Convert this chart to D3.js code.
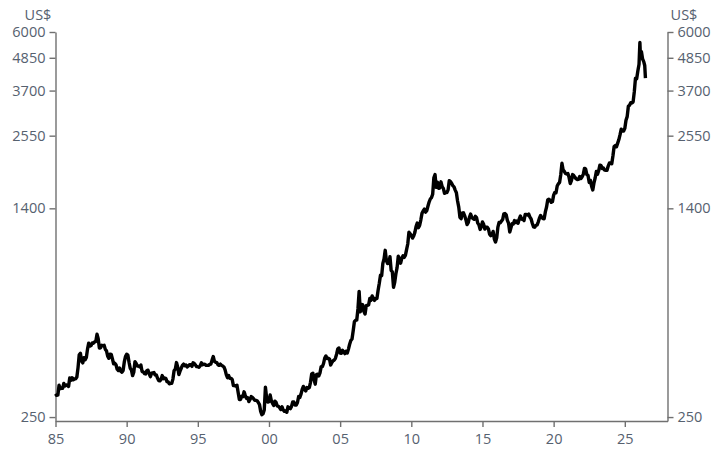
<!DOCTYPE html>
<html>
<head>
<meta charset="utf-8">
<script src="https://cdn.jsdelivr.net/npm/d3@7"></script>
<style>
  body { margin: 0; background: #fff; }
  svg text { font-family: "Open Sans", "Noto Sans", sans-serif; }
</style>
</head>
<body>
<div id="chart"></div>
<script>
// Gold price, US$ per ounce, monthly
const years = d3.range(1985, 2026);
const monthlyPrices = [
  [303, 299, 300, 325, 316, 317, 317, 330, 323, 326, 325, 322], // 1985
  [345, 339, 346, 340, 342, 343, 348, 376, 418, 423, 397, 391], // 1986
  [408, 401, 409, 438, 460, 449, 451, 461, 460, 465, 467, 495], // 1987
  [477, 442, 443, 452, 451, 452, 437, 432, 413, 406, 420, 419], // 1988
  [404, 388, 390, 385, 371, 367, 375, 365, 362, 367, 394, 412], // 1989
  [420, 417, 393, 374, 369, 352, 362, 395, 389, 381, 381, 378], // 1990
  [384, 364, 363, 358, 357, 367, 368, 357, 349, 359, 360, 361], // 1991
  [354, 354, 345, 338, 337, 341, 352, 343, 345, 344, 335, 334], // 1992
  [329, 330, 330, 342, 367, 371, 392, 378, 355, 365, 374, 383], // 1993
  [387, 382, 384, 378, 381, 385, 385, 380, 391, 389, 384, 379], // 1994
  [379, 377, 382, 391, 385, 387, 386, 383, 383, 383, 386, 387], // 1995
  [400, 412, 396, 393, 392, 385, 383, 387, 383, 381, 378, 369], // 1996
  [355, 346, 352, 344, 344, 341, 324, 324, 323, 325, 306, 289], // 1997
  [289, 297, 296, 308, 299, 292, 293, 284, 289, 296, 294, 291], // 1998
  [287, 287, 286, 282, 277, 262, 255, 257, 265, 320, 293, 283], // 1999
  [284, 300, 286, 280, 275, 285, 282, 274, 273, 270, 266, 272], // 2000
  [265, 262, 263, 260, 272, 270, 268, 273, 283, 283, 276, 276], // 2001
  [282, 296, 294, 302, 314, 322, 314, 310, 319, 317, 319, 333], // 2002
  [357, 359, 340, 328, 355, 356, 351, 360, 379, 379, 389, 407], // 2003
  [414, 405, 406, 404, 384, 392, 398, 400, 406, 420, 439, 442], // 2004
  [424, 423, 434, 429, 422, 430, 424, 438, 456, 470, 476, 510], // 2005
  [549, 555, 557, 610, 705, 596, 633, 632, 598, 585, 627, 629], // 2006
  [631, 665, 655, 679, 667, 655, 665, 665, 712, 754, 806, 803], // 2007
  [889, 922, 990, 909, 888, 889, 939, 839, 829, 730, 760, 816], // 2008
  [858, 943, 925, 890, 928, 946, 934, 949, 996, 1043, 1150, 1135], // 2009
  [1118, 1095, 1114, 1148, 1205, 1240, 1193, 1215, 1271, 1343, 1370, 1391], // 2010
  [1356, 1372, 1424, 1474, 1512, 1529, 1572, 1800, 1850, 1665, 1739, 1652], // 2011
  [1656, 1742, 1674, 1650, 1585, 1596, 1594, 1630, 1760, 1747, 1721, 1688], // 2012
  [1671, 1627, 1593, 1487, 1414, 1300, 1286, 1347, 1349, 1316, 1275, 1225], // 2013
  [1244, 1300, 1336, 1299, 1287, 1279, 1311, 1296, 1239, 1222, 1176, 1201], // 2014
  [1251, 1227, 1179, 1198, 1199, 1181, 1131, 1117, 1125, 1157, 1086, 1060], // 2015
  [1097, 1199, 1246, 1242, 1260, 1276, 1337, 1341, 1326, 1267, 1238, 1151], // 2016
  [1192, 1234, 1231, 1266, 1246, 1260, 1237, 1283, 1314, 1280, 1282, 1265], // 2017
  [1331, 1331, 1325, 1335, 1303, 1282, 1238, 1202, 1198, 1215, 1220, 1250], // 2018
  [1291, 1320, 1300, 1286, 1284, 1359, 1413, 1500, 1510, 1495, 1471, 1480], // 2019
  [1561, 1597, 1592, 1683, 1716, 1732, 1847, 2030, 1922, 1900, 1866, 1858], // 2020
  [1867, 1808, 1718, 1760, 1850, 1834, 1807, 1785, 1775, 1777, 1821, 1790], // 2021
  [1817, 1856, 1947, 1937, 1849, 1837, 1733, 1764, 1681, 1630, 1726, 1798], // 2022
  [1898, 1855, 1912, 2000, 1992, 1943, 1951, 1918, 1916, 1916, 1985, 2034], // 2023
  [2034, 2024, 2160, 2332, 2351, 2326, 2398, 2470, 2571, 2690, 2651, 2648], // 2024
  [2708, 2895, 2984, 3250, 3280, 3350, 3340, 3370, 3660, 4100, 4080, 4350]  // 2025
];
// last stretch, 2026, as decimal years
const tailDates = [2026.0, 2026.06, 2026.1, 2026.17, 2026.25, 2026.33, 2026.4, 2026.45];
const tailPrices = [4600, 5500, 4900, 5100, 4800, 4700, 4550, 4100];

const yTicks = [250, 1400, 2550, 3700, 4850, 6000];
const xTicks = [1985, 1990, 1995, 2000, 2005, 2010, 2015, 2020, 2025];

// build the series
let series = [];
years.forEach((yr, i) => {
  monthlyPrices[i].forEach((p, m) => series.push({ t: yr + m / 12, v: p }));
});
tailDates.forEach((t, i) => series.push({ t: t, v: tailPrices[i] }));

const width = 713, height = 451;
const plot = { left: 55.5, right: 667.5, top: 32, bottom: 421 };
const textColor = "#56616f";
const axisColor = "#707070";

const svg = d3.select("#chart").append("svg")
  .attr("width", width)
  .attr("height", height);

const xScale = d3.scaleLinear().domain([1985, 2028]).range([plot.left, plot.right]);
const yScale = d3.scaleLog().domain([242, 6000]).range([plot.bottom, plot.top]);

// axes
const xAxis = d3.axisBottom(xScale)
  .tickValues(xTicks)
  .tickSize(6)
  .tickSizeOuter(0)
  .tickPadding(4)
  .tickFormat(d => String(d).slice(2));

const yAxisLeft = d3.axisLeft(yScale)
  .tickValues(yTicks)
  .tickSize(6)
  .tickSizeOuter(0)
  .tickPadding(4)
  .tickFormat(d3.format("d"));

const yAxisRight = d3.axisRight(yScale)
  .tickValues(yTicks)
  .tickSize(6)
  .tickSizeOuter(0)
  .tickPadding(4)
  .tickFormat(d3.format("d"));

function styleAxis(g) {
  g.selectAll("path, line").attr("stroke", axisColor).attr("stroke-width", 1.4);
  g.selectAll("text")
    .attr("fill", textColor)
    .style("font-size", "14.5px");
}

svg.append("g")
  .attr("transform", `translate(0,${plot.bottom})`)
  .call(xAxis)
  .call(styleAxis)
  .selectAll("text").attr("dy", "0.9em");

svg.append("g")
  .attr("transform", `translate(${plot.left},0)`)
  .call(yAxisLeft)
  .call(styleAxis);

svg.append("g")
  .attr("transform", `translate(${plot.right},0)`)
  .call(yAxisRight)
  .call(styleAxis);

// unit labels
svg.append("text")
  .attr("x", 38).attr("y", 20)
  .attr("text-anchor", "middle")
  .attr("fill", textColor)
  .style("font-size", "14.5px")
  .text("US$");

svg.append("text")
  .attr("x", 684).attr("y", 20)
  .attr("text-anchor", "middle")
  .attr("fill", textColor)
  .style("font-size", "14.5px")
  .text("US$");

// price line
const line = d3.line()
  .x(d => xScale(d.t))
  .y(d => yScale(d.v));

svg.append("path")
  .datum(series)
  .attr("fill", "none")
  .attr("stroke", "#000")
  .attr("stroke-width", 3.4)
  .attr("stroke-linejoin", "round")
  .attr("d", line);
</script>
</body>
</html>
